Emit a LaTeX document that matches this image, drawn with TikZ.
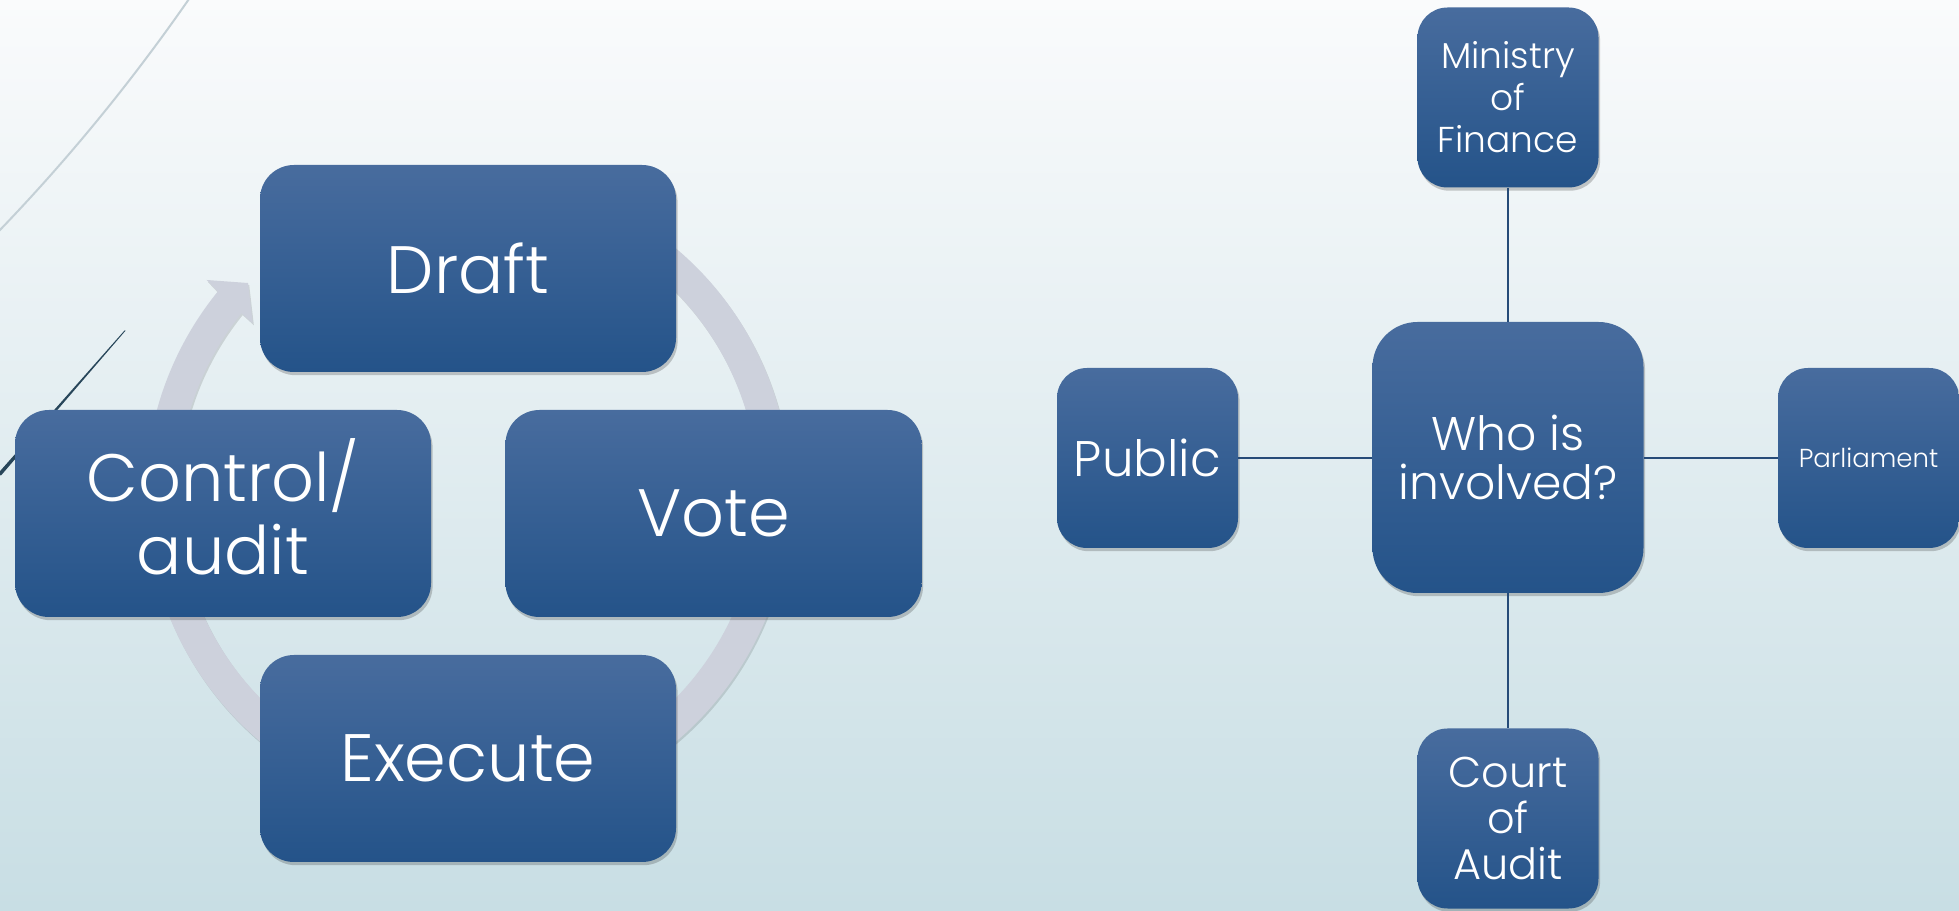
\documentclass[tikz,border=0pt]{standalone}
\usepackage{fontspec}
\setmainfont{Poppins Light}
\usetikzlibrary{shadows,calc}
\definecolor{boxtop}{RGB}{72,108,158}
\definecolor{boxbot}{RGB}{36,83,137}
\definecolor{ringc}{RGB}{205,209,220}
\definecolor{bgtop}{RGB}{250,251,252}
\definecolor{bgbot}{RGB}{200,222,228}
\definecolor{linkc}{RGB}{38,75,120}
\definecolor{decodark}{RGB}{40,70,90}
\definecolor{decolight}{RGB}{196,208,214}
\begin{document}
\begin{tikzpicture}[x=0.5pt,y=0.5pt,
  box/.style={draw=none, top color=boxtop, bottom color=boxbot, text=white,
    align=center, inner sep=0pt,
    drop shadow={shadow xshift=0.8pt, shadow yshift=-1.6pt, opacity=0.25, fill=black!80}},
  cyclebox/.style={box, minimum width=208pt, minimum height=103.5pt, rounded corners=17pt,
    font=\fontsize{33.5}{36.5}\selectfont},
  smallbox/.style={box, minimum width=90.5pt, minimum height=90pt, rounded corners=15pt},
  hubbox/.style={box, minimum width=135.5pt, minimum height=135.5pt, rounded corners=22.5pt,
    font=\fontsize{23.6}{24.5}\selectfont},
  link/.style={draw=linkc, line width=1pt}
]
\useasboundingbox (0,0) rectangle (1959,910);
% background
\shade[top color=bgtop, bottom color=bgbot] (0,0) rectangle (1959,910);
% decorative theme lines
\draw[decolight, line width=1pt] (189,911) .. controls (131.5,828.2) and (68.9,751.6) .. (-1,679);
\fill[decodark] (124.6,579.6) -- (125.6,579.4) -- (1,434.5) -- (-2.5,436) -- cycle;

% circular arrow
\coordinate (R) at (468,415);
\fill[ringc, drop shadow={shadow xshift=0.6pt, shadow yshift=-1pt, opacity=0.12, fill=black}]
  ($(R)+(420:322.5)$) arc[start angle=420, end angle=140.9, radius=322.5]
  -- ($(R)+(140.55:338.4)$) -- ($(R)+(136.06:305.5)$) -- ($(R)+(141.43:275.4)$)
  -- ($(R)+(141.24:290.5)$) arc[start angle=141.24, end angle=420, radius=290.5] -- cycle;

% cycle nodes
\node[cyclebox] (draft) at (468,641.5) {Draft};
\node[cyclebox] (vote) at (713.5,396.5) {Vote};
\node[cyclebox] (exec) at (468,151.5) {Execute};
\node[cyclebox, label={[text=white, align=center, inner sep=0pt,
    font=\fontsize{33.5}{36.5}\selectfont, yshift=3.5pt]center:Control/\\audit}] (ctrl) at (223,396.5) {};

% who is involved
\node[hubbox] (hub) at (1508,452.5) {Who is\\involved?};
\node[smallbox, font=\fontsize{18}{21}\selectfont] (mof) at (1508,812.5) {Ministry\\of\\Finance};
\node[smallbox, font=\fontsize{21.5}{23}\selectfont] (coa) at (1508,91.5) {Court\\of\\Audit};
\node[smallbox, font=\fontsize{25}{26}\selectfont] (pub) at (1147.5,452) {Public};
\node[smallbox, font=\fontsize{13}{15}\selectfont] (parl) at (1868.5,452) {Parliament};

\draw[link] (hub) -- (mof);
\draw[link] (hub) -- (coa);
\draw[link] (hub.west |- pub.east) -- (pub.east);
\draw[link] (hub.east |- parl.west) -- (parl.west);
\end{tikzpicture}
\end{document}
